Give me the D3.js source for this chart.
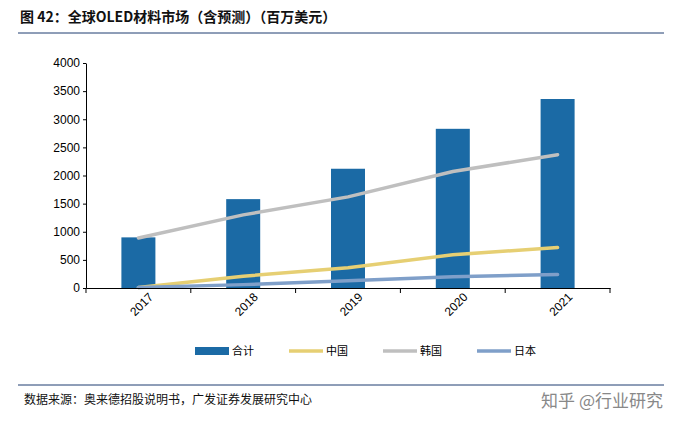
<!DOCTYPE html>
<html><head><meta charset="utf-8">
<script src="https://cdn.jsdelivr.net/npm/d3@7"></script>
<style>body{margin:0;background:#fff;font-family:"Noto Sans CJK SC","Liberation Sans",sans-serif;}</style>
</head><body><svg id="c" width="682" height="427"></svg>
<script>
const years = ["2017", "2018", "2019", "2020", "2021"];
const total = [900, 1580, 2120, 2830, 3360];
const korea = [890, 1300, 1620, 2070, 2370];
const china = [10, 210, 360, 590, 720];
const japan = [10, 60, 130, 200, 240];
const yTicks = [0, 500, 1000, 1500, 2000, 2500, 3000, 3500, 4000];

const svg = d3.select("#c");
const margin = { left: 86, right: 72, top: 63, bottom: 139 };
const w = 682 - margin.left - margin.right, h = 427 - margin.top - margin.bottom;

// title
svg.append("text").attr("x", 20).attr("y", 22).attr("font-size", 14).attr("font-weight", "bold")
  .attr("fill", "#111").text("图 42：全球OLED材料市场（含预测）（百万美元）");
svg.append("line").attr("x1", 18).attr("x2", 664).attr("y1", 33).attr("y2", 33).attr("stroke", "#1f3d70").attr("stroke-width", 1);

const g = svg.append("g").attr("transform", `translate(${margin.left},${margin.top})`);
const x = d3.scaleBand().domain(years).range([0, w]);
const y = d3.scaleLinear().domain([0, 4000]).range([h, 0]);

g.append("g").call(d3.axisLeft(y).tickValues(yTicks).tickFormat(d3.format("d")).tickSize(3).tickSizeOuter(0))
  .call(a => a.selectAll("text").attr("font-size", 12).attr("fill", "#000").attr("font-family", "Liberation Sans"));

g.selectAll(".bar").data(years).enter().append("rect")
  .attr("x", d => x(d) + x.bandwidth() / 2 - 17).attr("width", 34)
  .attr("y", (d, i) => y(total[i])).attr("height", (d, i) => h - y(total[i]))
  .attr("fill", "#1b6aa5");

const line = d3.line().x((d, i) => x(years[i]) + x.bandwidth() / 2).y(d => y(d));
[[korea, "#bfbfbf"], [china, "#e6cf73"], [japan, "#7f9fc9"]].forEach(([s, c]) => {
  g.append("path").attr("d", line(s)).attr("fill", "none").attr("stroke", c).attr("stroke-width", 3.5).attr("stroke-linecap", "round");
});

const xa = g.append("g").attr("transform", `translate(0,${h})`)
  .call(d3.axisBottom(x).tickSize(5).tickSizeOuter(0));
xa.selectAll(".tick line").attr("transform", `translate(${-x.bandwidth() / 2},0)`);
xa.append("line").attr("x1", w).attr("x2", w).attr("y2", 5).attr("stroke", "#000");
xa.selectAll("text").attr("font-size", 12).attr("fill", "#000").attr("font-family", "Liberation Sans")
  .attr("text-anchor", "end").attr("dx", 4).attr("dy", 10).attr("transform", "rotate(-45)");

// legend
const leg = [["合计", "#1b6aa5", 8], ["中国", "#e6cf73", 3.5], ["韩国", "#bfbfbf", 3.5], ["日本", "#7f9fc9", 3.5]];
leg.forEach(([t, c, sw], i) => {
  const lx = 195 + i * 94;
  svg.append("line").attr("x1", lx).attr("x2", lx + 34).attr("y1", 351).attr("y2", 351).attr("stroke", c).attr("stroke-width", sw);
  svg.append("text").attr("x", lx + 37).attr("y", 355).attr("font-size", 11).text(t);
});

svg.append("line").attr("x1", 18).attr("x2", 664).attr("y1", 385).attr("y2", 385).attr("stroke", "#1f3d70");
svg.append("text").attr("x", 24).attr("y", 404).attr("font-size", 12).attr("fill", "#111")
  .text("数据来源：奥来德招股说明书，广发证券发展研究中心");
svg.append("text").attr("x", 663).attr("y", 407).attr("text-anchor", "end").attr("font-size", 17).attr("fill", "#888")
  .text("知乎 @行业研究");
</script></body></html>
